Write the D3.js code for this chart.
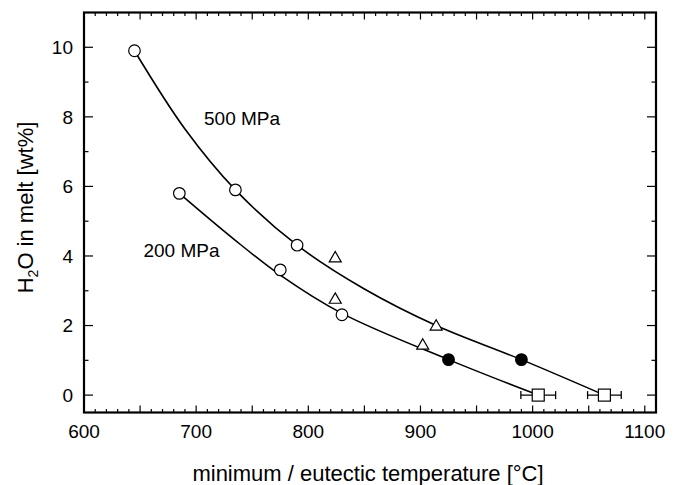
<!DOCTYPE html>
<html lang="en">
<head>
<meta charset="UTF-8" />
<script src="https://cdnjs.cloudflare.com/ajax/libs/d3/7.8.5/d3.min.js"></script>
<title>H2O in melt vs temperature</title>
<style>
body { margin: 0; background: #fff; }
svg text { font-family: "Liberation Sans", Arial, sans-serif; fill: #000; }
</style>
</head>
<body>
<svg id="chart" width="680" height="485"></svg>
<script>

// measured points [temperature °C, H2O wt%]
const circles500 = [[645, 9.9], [735, 5.9], [790, 4.31]];
const circles200 = [[685, 5.8], [775, 3.6], [830, 2.31]];
const triangles = [[824, 3.93], [824, 2.74], [914, 1.97], [902, 1.42]];
const filled = [[925, 1.02], [990, 1.02]];
const squares = [[1005, 0], [1064, 0]];
const squareErr = [15.5, 15];

// fitted curves
const curve500 = [[645, 9.9], [690, 7.65], [735, 5.9], [790, 4.31], [850, 3.05], [914, 2.0], [990, 1.02], [1064, 0]];
const curve200 = [[685, 5.8], [733, 4.5], [775, 3.45], [830, 2.35], [925, 1.02], [1005, 0]];

const labels = [
  { text: '500 MPa', x: 707, y: 7.76 },
  { text: '200 MPa', x: 653, y: 3.96 }
];

const xTicks = [600, 700, 800, 900, 1000, 1100];
const yTicks = [0, 2, 4, 6, 8, 10];

const margin = { left: 84, right: 24, top: 12.5, bottom: 72.5 };
const W = 680, H = 485;

const svg = d3.select('#chart');

const x = d3.scaleLinear().domain([600, 1110]).range([margin.left, W - margin.right]);
const y = d3.scaleLinear().domain([-0.5, 11]).range([H - margin.bottom, margin.top]);

const x0 = x.range()[0], x1 = x.range()[1];
const y0 = y.range()[0], y1 = y.range()[1];

// ticks (all pointing inward)
const minorX = d3.range(600, 1110, 10);
const tickG = svg.append('g').attr('stroke', '#000').attr('stroke-width', 1.2);

minorX.forEach(v => {
  const len = v % 50 === 0 ? 7 : 3.5;
  tickG.append('line').attr('x1', x(v)).attr('x2', x(v)).attr('y1', y0).attr('y2', y0 - len);
  tickG.append('line').attr('x1', x(v)).attr('x2', x(v)).attr('y1', y1).attr('y2', y1 + len);
});

d3.range(0, 11, 1).forEach(v => {
  const len = v % 2 === 0 ? 9 : 4.5;
  tickG.append('line').attr('x1', x0).attr('x2', x0 + len).attr('y1', y(v)).attr('y2', y(v));
  tickG.append('line').attr('x1', x1).attr('x2', x1 - len).attr('y1', y(v)).attr('y2', y(v));
});

// frame
svg.append('rect')
  .attr('x', x0).attr('y', y1)
  .attr('width', x1 - x0).attr('height', y0 - y1)
  .attr('fill', 'none').attr('stroke', '#000').attr('stroke-width', 2.2);

// tick labels
svg.append('g').selectAll('text').data(xTicks).join('text')
  .attr('x', d => x(d)).attr('y', 437.5)
  .attr('text-anchor', 'middle')
  .style('font-size', '19px')
  .text(d => d);

svg.append('g').selectAll('text').data(yTicks).join('text')
  .attr('x', x0 - 11).attr('y', d => y(d))
  .attr('dy', '0.36em')
  .attr('text-anchor', 'end')
  .style('font-size', '19px')
  .text(d => d);

// axis titles
svg.append('text')
  .attr('x', (x0 + x1) / 2 - 2).attr('y', 481)
  .attr('text-anchor', 'middle')
  .style('font-size', '22px')
  .text('minimum / eutectic temperature [°C]');

const yt = svg.append('text')
  .attr('transform', `translate(33,${(y0 + y1) / 2 - 5}) rotate(-90)`)
  .attr('text-anchor', 'middle')
  .style('font-size', '22px');
yt.append('tspan').text('H');
yt.append('tspan').attr('dy', 5).style('font-size', '14px').text('2');
yt.append('tspan').attr('dy', -5).text('O in melt [wt%]');

// curves
const line = d3.line()
  .x(d => x(d[0])).y(d => y(d[1]))
  .curve(d3.curveCatmullRom.alpha(0.5));

[curve500, curve200].forEach(c => {
  svg.append('path')
    .attr('d', line(c))
    .attr('fill', 'none')
    .attr('stroke', '#000')
    .attr('stroke-width', 1.6);
});

// error bars on squares
const eb = svg.append('g').attr('stroke', '#000').attr('stroke-width', 1.3);
squares.forEach((d, i) => {
  const e = squareErr[i];
  eb.append('line').attr('x1', x(d[0] - e)).attr('x2', x(d[0] + e)).attr('y1', y(d[1])).attr('y2', y(d[1]));
  [d[0] - e, d[0] + e].forEach(v => {
    eb.append('line').attr('x1', x(v)).attr('x2', x(v)).attr('y1', y(d[1]) - 4).attr('y2', y(d[1]) + 4);
  });
});

// markers
const mk = svg.append('g').attr('stroke', '#000').attr('stroke-width', 1.2);

mk.selectAll('circle.open').data(circles500.concat(circles200)).join('circle')
  .attr('class', 'open')
  .attr('cx', d => x(d[0])).attr('cy', d => y(d[1]))
  .attr('r', 5.8).attr('fill', '#fff');

mk.selectAll('circle.filled').data(filled).join('circle')
  .attr('class', 'filled')
  .attr('cx', d => x(d[0])).attr('cy', d => y(d[1]))
  .attr('r', 5.8).attr('fill', '#000');

const tri = d3.symbol().type(d3.symbolTriangle).size(62);
mk.selectAll('path.tri').data(triangles).join('path')
  .attr('class', 'tri')
  .attr('transform', d => `translate(${x(d[0])},${y(d[1])})`)
  .attr('d', tri())
  .attr('fill', '#fff');

mk.selectAll('rect.sq').data(squares).join('rect')
  .attr('class', 'sq')
  .attr('x', d => x(d[0]) - 6).attr('y', d => y(d[1]) - 6)
  .attr('width', 12).attr('height', 12)
  .attr('fill', '#fff');

// curve labels
svg.append('g').selectAll('text').data(labels).join('text')
  .attr('x', d => x(d.x)).attr('y', d => y(d.y))
  .style('font-size', '19px')
  .text(d => d.text);

</script>
</body>
</html>
